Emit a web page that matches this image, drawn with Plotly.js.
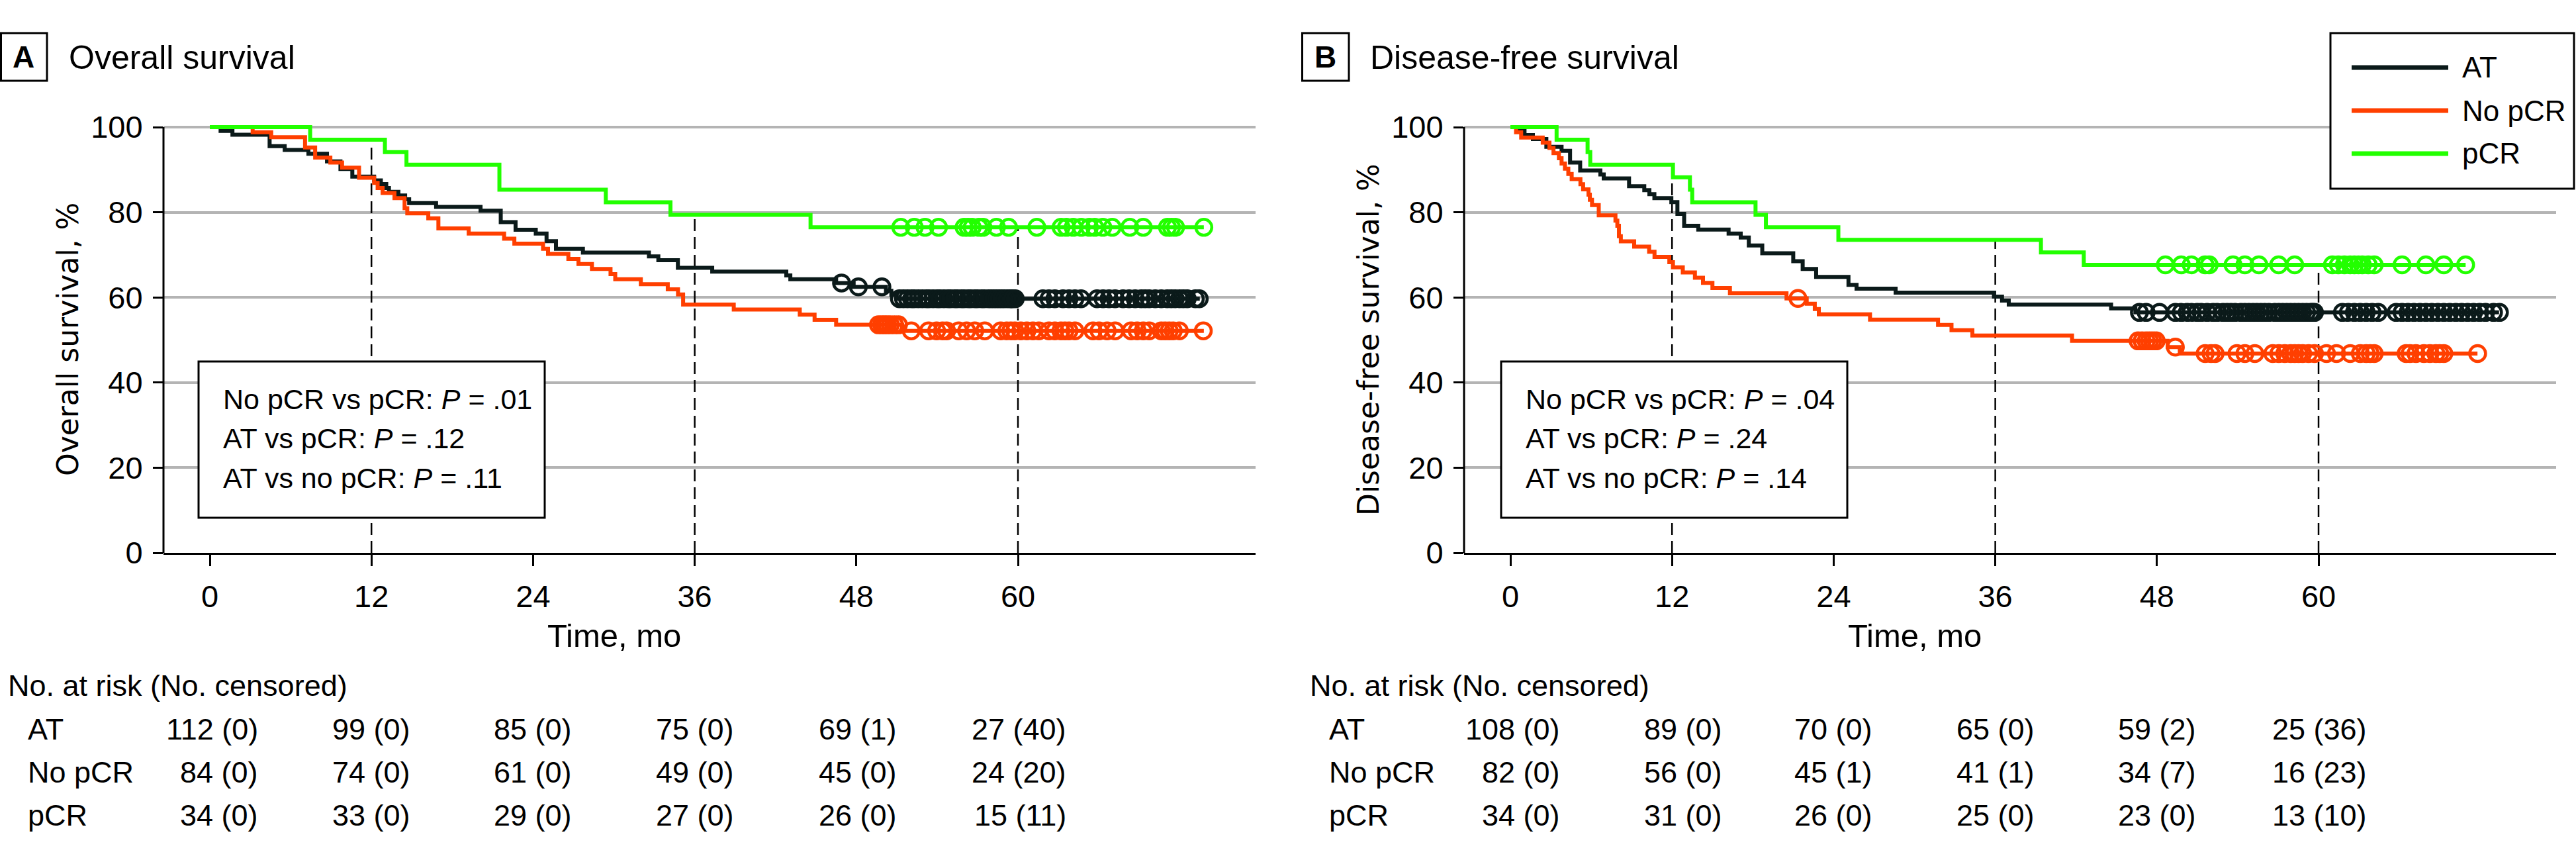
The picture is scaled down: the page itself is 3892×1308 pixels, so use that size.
<!DOCTYPE html>
<html>
<head>
<meta charset="utf-8">
<script src="https://cdn.plot.ly/plotly-3.0.1.min.js"></script>
<style>html,body{margin:0;padding:0;background:#fff;}</style>
</head>
<body>
<div id="chart" style="width:3892px;height:1308px;"></div>
<script>
// ---------------- Kaplan-Meier data (time in months, survival in %) ----------------
const groups = ['AT', 'No pCR', 'pCR'];
const riskTimes = [0, 12, 24, 36, 48, 60];

// Panel A: overall survival
const osAT_t = [0, 0.8, 1.68, 4.44, 5.56, 7.32, 8.7, 9.7, 10.58, 12.2, 12.7, 13.1, 13.3, 14.0, 14.5, 14.8, 16.8, 20.1, 21.6, 22.7, 24.2, 25.0, 25.7, 27.7, 32.6, 33.3, 34.75, 37.3, 42.8, 43.1, 46.5, 47.8, 50.2, 50.6, 51.0, 73.5];
const osAT_s = [100, 99.11, 98.21, 95.54, 94.64, 93.75, 91.96, 90.18, 88.39, 87.50, 86.61, 85.71, 84.82, 83.93, 83.04, 82.14, 81.25, 80.36, 77.68, 75.89, 75.00, 73.21, 71.43, 70.54, 69.64, 68.75, 66.96, 66.07, 65.18, 64.29, 63.39, 62.48, 61.55, 60.62, 59.69, 59.69];
const osAT_cens = [46.9, 48.15, 49.9, 51.2, 51.5, 51.8, 52.1, 52.3, 52.6, 52.9, 53.2, 53.4, 53.7, 54.0, 54.2, 54.5, 54.8, 55.0, 55.3, 55.5, 55.8, 56.0, 56.3, 56.5, 56.8, 57.0, 57.3, 57.5, 57.8, 58.0, 58.2, 58.4, 58.6, 58.8, 59.0, 59.2, 59.4, 59.5, 59.6, 59.8, 61.85, 62.3, 62.74, 63.34, 63.79, 64.23, 64.68, 65.87, 66.32, 66.76, 67.21, 67.8, 68.25, 68.7, 69.15, 69.44, 69.74, 70.19, 70.64, 71.08, 71.38, 71.68, 71.98, 72.27, 72.57, 73.17, 73.46];

const osNo_t = [0, 3.18, 4.56, 7.07, 7.82, 8.95, 9.82, 11.08, 12.2, 12.46, 12.83, 13.71, 14.46, 14.66, 16.22, 16.97, 19.22, 21.85, 22.61, 24.74, 25.11, 26.62, 27.37, 28.37, 29.75, 30.1, 32.0, 34.0, 34.76, 35.14, 38.9, 43.8, 44.9, 46.5, 51.4, 73.8];
const osNo_s = [100, 98.81, 97.62, 95.24, 92.86, 91.67, 90.48, 88.10, 86.90, 85.71, 84.52, 83.33, 80.95, 79.76, 78.57, 76.19, 75.00, 73.81, 72.62, 71.43, 70.24, 69.05, 67.86, 66.67, 65.48, 64.29, 63.10, 61.90, 60.71, 58.33, 57.14, 55.95, 54.76, 53.57, 52.16, 52.16];
const osNo_cens = [49.64, 49.88, 50.09, 50.3, 50.53, 50.83, 51.13, 52.08, 53.36, 53.96, 54.4, 54.7, 55.6, 56.19, 56.79, 57.53, 58.72, 59.17, 59.47, 59.77, 60.21, 60.66, 61.11, 61.55, 62.3, 62.74, 63.19, 63.49, 63.79, 64.23, 65.57, 66.02, 66.62, 67.21, 68.4, 68.85, 69.3, 69.74, 70.64, 70.93, 71.23, 71.53, 71.98, 73.76];

const osP_t = [0, 7.45, 13.0, 14.6, 21.5, 29.4, 34.2, 44.6, 73.8];
const osP_s = [100, 97.06, 94.12, 91.18, 85.29, 82.35, 79.41, 76.47, 76.47];
const osP_cens = [51.3, 52.3, 53.1, 54.1, 56.0, 56.3, 56.6, 57.1, 57.4, 58.4, 59.3, 61.4, 63.2, 63.6, 64.1, 64.7, 65.3, 65.7, 66.3, 67.0, 68.3, 69.3, 71.1, 71.4, 71.7, 73.8];

// Panel B: disease-free survival
const dfsAT_t = [0, 0.67, 1.05, 1.67, 2.67, 3.8, 4.43, 5.18, 6.68, 6.93, 8.81, 9.94, 10.32, 10.69, 11.95, 12.4, 12.9, 13.95, 16.2, 17.1, 17.7, 18.7, 21.0, 21.7, 22.7, 25.1, 25.7, 28.6, 35.9, 36.5, 37.0, 44.6, 46.4, 73.4];
const dfsAT_s = [100, 99.07, 98.15, 97.22, 95.37, 94.44, 91.67, 89.81, 88.89, 87.96, 86.11, 85.19, 84.26, 83.33, 82.41, 79.63, 76.85, 75.93, 75.00, 74.07, 72.22, 70.37, 68.52, 66.67, 64.81, 62.96, 62.04, 61.11, 60.19, 59.26, 58.33, 57.41, 56.48, 56.48];
const dfsAT_cens = [46.7, 47.2, 48.19, 49.37, 49.81, 50.25, 50.55, 50.99, 51.29, 51.73, 52.17, 52.47, 52.91, 53.21, 53.5, 53.8, 54.24, 54.53, 54.83, 55.13, 55.42, 55.72, 56.01, 56.31, 56.75, 57.05, 57.34, 57.64, 57.93, 58.23, 58.52, 58.82, 59.11, 59.41, 59.55, 59.7, 61.77, 62.21, 62.66, 63.1, 63.54, 63.98, 64.43, 65.76, 66.2, 66.64, 67.08, 67.53, 67.97, 68.41, 68.86, 69.3, 69.74, 70.19, 70.63, 71.07, 71.51, 71.96, 72.4, 72.99, 73.43];

const dfsNo_t = [0, 0.42, 0.8, 2.4, 2.9, 3.2, 3.6, 3.8, 4.05, 4.3, 4.55, 5.2, 5.4, 5.8, 5.9, 6.06, 6.56, 7.8, 7.94, 8.06, 8.2, 9.19, 10.3, 10.7, 11.8, 12.07, 12.8, 13.7, 14.3, 15.0, 16.3, 20.5, 22.0, 22.6, 22.9, 26.7, 31.75, 32.75, 34.3, 41.7, 48.8, 49.7, 71.8];
const dfsNo_s = [100, 98.78, 97.56, 96.34, 95.12, 93.90, 92.68, 91.46, 90.24, 89.02, 87.80, 86.59, 85.37, 84.15, 82.93, 81.71, 79.27, 78.05, 76.83, 74.39, 73.17, 71.95, 70.73, 69.51, 68.29, 67.07, 65.85, 64.63, 63.41, 62.20, 60.98, 59.76, 58.51, 57.27, 56.02, 54.78, 53.53, 52.29, 51.04, 49.79, 48.33, 46.82, 46.82];
const dfsNo_cens = [21.35, 46.6, 46.9, 47.2, 47.45, 47.7, 47.95, 49.37, 51.58, 52.02, 52.32, 53.94, 54.53, 55.27, 56.6, 57.05, 57.49, 57.93, 58.23, 58.52, 58.82, 59.26, 59.7, 60.59, 61.33, 62.36, 63.1, 63.54, 63.84, 64.13, 66.5, 66.79, 67.23, 67.82, 68.27, 68.71, 69.0, 69.3, 71.81];

const dfsP_t = [0, 3.43, 5.73, 5.93, 12.07, 13.33, 13.5, 18.2, 18.97, 24.35, 39.39, 42.57, 70.92];
const dfsP_s = [100, 97.06, 94.12, 91.18, 88.24, 85.29, 82.35, 79.41, 76.47, 73.53, 70.59, 67.65, 67.65];
const dfsP_cens = [48.63, 49.81, 50.55, 51.58, 51.88, 53.65, 54.53, 55.57, 57.04, 58.23, 61.03, 61.47, 61.92, 62.36, 62.66, 62.95, 63.25, 63.69, 64.13, 66.2, 67.97, 69.3, 70.92];

// Numbers at risk (number censored) at 0, 12, 24, 36, 48, 60 months
const osRiskAT = [112, 99, 85, 75, 69, 27];   const osCensAT = [0, 0, 0, 0, 1, 40];
const osRiskNo = [84, 74, 61, 49, 45, 24];    const osCensNo = [0, 0, 0, 0, 0, 20];
const osRiskP  = [34, 33, 29, 27, 26, 15];    const osCensP  = [0, 0, 0, 0, 0, 11];
const dfsRiskAT = [108, 89, 70, 65, 59, 25];  const dfsCensAT = [0, 0, 0, 0, 2, 36];
const dfsRiskNo = [82, 56, 45, 41, 34, 16];   const dfsCensNo = [0, 0, 1, 1, 7, 23];
const dfsRiskP  = [34, 31, 26, 25, 23, 13];   const dfsCensP  = [0, 0, 0, 0, 0, 10];

// Log-rank comparisons
const osPvals  = ['.01', '.12', '.11'];
const dfsPvals = ['.04', '.24', '.14'];
const pairLabels = ['No pCR vs pCR', 'AT vs pCR', 'AT vs no pCR'];

const landmarks = [12, 36, 60];

// ---------------- styling ----------------
const W = 3892, H = 1308;
const FONT = 'Liberation Sans, Arial, Helvetica, sans-serif';
const YFONT = 'DejaVu Sans, Verdana, sans-serif';
const COLORS = {'AT': '#0b1a1a', 'No pCR': '#ff3f00', 'pCR': '#22ff00'};
const px = x => x / W;
const py = y => 1 - y / H;

function survAt(ts, ss, t) {
  let v = ss[0];
  for (let i = 0; i < ts.length; i++) if (ts[i] <= t) v = ss[i];
  return v;
}

const panels = [
  {xa: 'x', ya: 'y', curves: {
      'AT': [osAT_t, osAT_s, osAT_cens],
      'No pCR': [osNo_t, osNo_s, osNo_cens],
      'pCR': [osP_t, osP_s, osP_cens]},
   risk: {'AT': [osRiskAT, osCensAT], 'No pCR': [osRiskNo, osCensNo], 'pCR': [osRiskP, osCensP]},
   pvals: osPvals},
  {xa: 'x2', ya: 'y2', curves: {
      'AT': [dfsAT_t, dfsAT_s, dfsAT_cens],
      'No pCR': [dfsNo_t, dfsNo_s, dfsNo_cens],
      'pCR': [dfsP_t, dfsP_s, dfsP_cens]},
   risk: {'AT': [dfsRiskAT, dfsCensAT], 'No pCR': [dfsRiskNo, dfsCensNo], 'pCR': [dfsRiskP, dfsCensP]},
   pvals: dfsPvals}
];

const traces = [];
panels.forEach(p => {
  // dashed landmark lines from the pCR curve down to the axis
  const pc = p.curves['pCR'];
  landmarks.forEach(m => {
    traces.push({x: [m, m], y: [0, survAt(pc[0], pc[1], m)], xaxis: p.xa, yaxis: p.ya,
      mode: 'lines', line: {color: '#000', width: 2.5, dash: '18px,9px'}, hoverinfo: 'skip'});
  });
  groups.forEach(g => {
    const [t, s] = p.curves[g];
    traces.push({x: t, y: s, xaxis: p.xa, yaxis: p.ya, mode: 'lines',
      line: {color: COLORS[g], width: 6, shape: 'hv'}, name: g});
  });
  groups.forEach(g => {
    const [t, s, c] = p.curves[g];
    traces.push({x: c, y: c.map(v => survAt(t, s, v)), xaxis: p.xa, yaxis: p.ya, mode: 'markers',
      marker: {symbol: 'circle-open', size: 24, color: COLORS[g], line: {width: 4.5, color: COLORS[g]}},
      name: g + ' censored', cliponaxis: false});
  });
});

function xAxis(domain) {
  return {domain: domain, range: [-3.44, 77.64], tickvals: riskTimes, ticks: 'outside', ticklen: 17,
    tickwidth: 3, tickcolor: '#000', showline: true, linewidth: 3, linecolor: '#000',
    showgrid: false, zeroline: false, tickfont: {family: FONT, size: 47, color: '#000'},
    ticklabelstandoff: 6, fixedrange: true};
}
function yAxis(anchor) {
  return {domain: [py(835), py(185.6)], range: [0, 101], tickvals: [0, 20, 40, 60, 80, 100],
    ticks: 'outside', ticklen: 15, tickwidth: 3, tickcolor: '#000', showline: false,
    showgrid: true, gridcolor: '#b4b4b4', gridwidth: 4, zeroline: false, anchor: anchor,
    tickfont: {family: FONT, size: 47, color: '#000'}, ticklabelstandoff: 6, fixedrange: true};
}

const shapes = [];
const annotations = [];

// panel-level geometry
const geom = [
  {tag: 'A', title: 'Overall survival', ytitle: 'Overall survival, %',
   tagBox: [0, 71], titleX: 102, ytitleX: 103, pbox: [300, 823], ptextX: 335,
   riskHeadX: 10, riskLabelX: 40, riskCols: [3.7, 15.0, 27.0, 39.0, 51.1, 63.7]},
  {tag: 'B', title: 'Disease-free survival', ytitle: 'Disease-free survival, %',
   tagBox: [1966, 2038], titleX: 2068, ytitleX: 2068, pbox: [2268, 2791], ptextX: 2303,
   riskHeadX: 1977, riskLabelX: 2006, riskCols: [3.8, 15.8, 27.0, 39.0, 51.0, 63.7]}
];

geom.forEach((gm, i) => {
  const p = panels[i];
  const xa = p.xa, ya = p.ya;
  // y axis line from 0 to 100
  shapes.push({type: 'line', xref: xa + ' domain', yref: ya, x0: 0, x1: 0, y0: 0, y1: 100,
    line: {color: '#000', width: 3}});
  // panel tag box
  shapes.push({type: 'rect', xref: 'paper', yref: 'paper', x0: px(gm.tagBox[0] + 1.5), x1: px(gm.tagBox[1]),
    y0: py(122), y1: py(50), line: {color: '#000', width: 3}, fillcolor: 'rgba(0,0,0,0)'});
  annotations.push({xref: 'paper', yref: 'paper', x: px((gm.tagBox[0] + gm.tagBox[1]) / 2), y: py(86),
    xanchor: 'center', yanchor: 'middle', showarrow: false, text: '<b>' + gm.tag + '</b>',
    font: {family: FONT, size: 46, color: '#000'}});
  annotations.push({xref: 'paper', yref: 'paper', x: px(gm.titleX), y: py(87), xanchor: 'left',
    yanchor: 'middle', showarrow: false, text: gm.title, font: {family: FONT, size: 50, color: '#000'}});
  // y axis title
  annotations.push({xref: 'paper', yref: 'paper', x: px(gm.ytitleX), y: py(513), xanchor: 'center',
    yanchor: 'middle', showarrow: false, textangle: -90, text: gm.ytitle,
    font: {family: YFONT, size: 44, color: '#000'}});
  // x axis title
  annotations.push({xref: xa, yref: 'paper', x: 30, y: py(960), xanchor: 'center', yanchor: 'middle',
    showarrow: false, text: 'Time, mo', font: {family: FONT, size: 49, color: '#000'}});
  // p-value box
  shapes.push({type: 'rect', xref: 'paper', yref: 'paper', x0: px(gm.pbox[0]), x1: px(gm.pbox[1]),
    y0: py(782), y1: py(546), line: {color: '#000', width: 3}, fillcolor: '#fff', layer: 'above'});
  const pY = [603, 662, 722];
  pairLabels.forEach((lab, k) => {
    annotations.push({xref: 'paper', yref: 'paper', x: px(gm.ptextX), y: py(pY[k]), xanchor: 'left',
      yanchor: 'middle', showarrow: false, text: lab + ': <i>P</i> = ' + p.pvals[k],
      font: {family: FONT, size: 43, color: '#000'}});
  });
  // risk table
  annotations.push({xref: 'paper', yref: 'paper', x: px(gm.riskHeadX), y: py(1035), xanchor: 'left',
    yanchor: 'middle', showarrow: false, text: 'No. at risk (No. censored)',
    font: {family: FONT, size: 45, color: '#000'}});
  const rowY = [1101, 1166, 1231];
  groups.forEach((g, r) => {
    annotations.push({xref: 'paper', yref: 'paper', x: px(gm.riskLabelX), y: py(rowY[r]), xanchor: 'left',
      yanchor: 'middle', showarrow: false, text: g, font: {family: FONT, size: 45, color: '#000'}});
    const [n, c] = p.risk[g];
    n.forEach((v, k) => {
      annotations.push({xref: xa, yref: 'paper', x: gm.riskCols[k], y: py(rowY[r]), xanchor: 'right',
        yanchor: 'middle', showarrow: false, text: v + ' (' + c[k] + ')',
        font: {family: FONT, size: 45, color: '#000'}});
    });
  });
});

// legend
shapes.push({type: 'rect', xref: 'paper', yref: 'paper', x0: px(3521), x1: px(3889), y0: py(285), y1: py(50),
  line: {color: '#000', width: 3}, fillcolor: '#fff', layer: 'above'});
const legY = [102, 167, 232];
groups.forEach((g, k) => {
  shapes.push({type: 'line', xref: 'paper', yref: 'paper', x0: px(3553), x1: px(3699), y0: py(legY[k]), y1: py(legY[k]),
    line: {color: COLORS[g], width: 7}, layer: 'above'});
  annotations.push({xref: 'paper', yref: 'paper', x: px(3718), y: py(legY[k]), xanchor: 'left', yanchor: 'middle',
    showarrow: false, text: g, font: {family: FONT, size: 44, color: '#000'}});
});

const layout = {
  width: W, height: H, margin: {l: 0, r: 0, t: 0, b: 0},
  paper_bgcolor: '#fff', plot_bgcolor: '#fff', showlegend: false,
  font: {family: FONT, color: '#000'},
  xaxis: xAxis([px(247), px(1897)]),
  yaxis: yAxis('x'),
  xaxis2: Object.assign(xAxis([px(2212), px(3862)]), {anchor: 'y2'}),
  yaxis2: yAxis('x2'),
  shapes: shapes,
  annotations: annotations
};
layout.xaxis.anchor = 'y';

Plotly.newPlot('chart', traces, layout, {staticPlot: true, displayModeBar: false});
</script>
</body>
</html>
